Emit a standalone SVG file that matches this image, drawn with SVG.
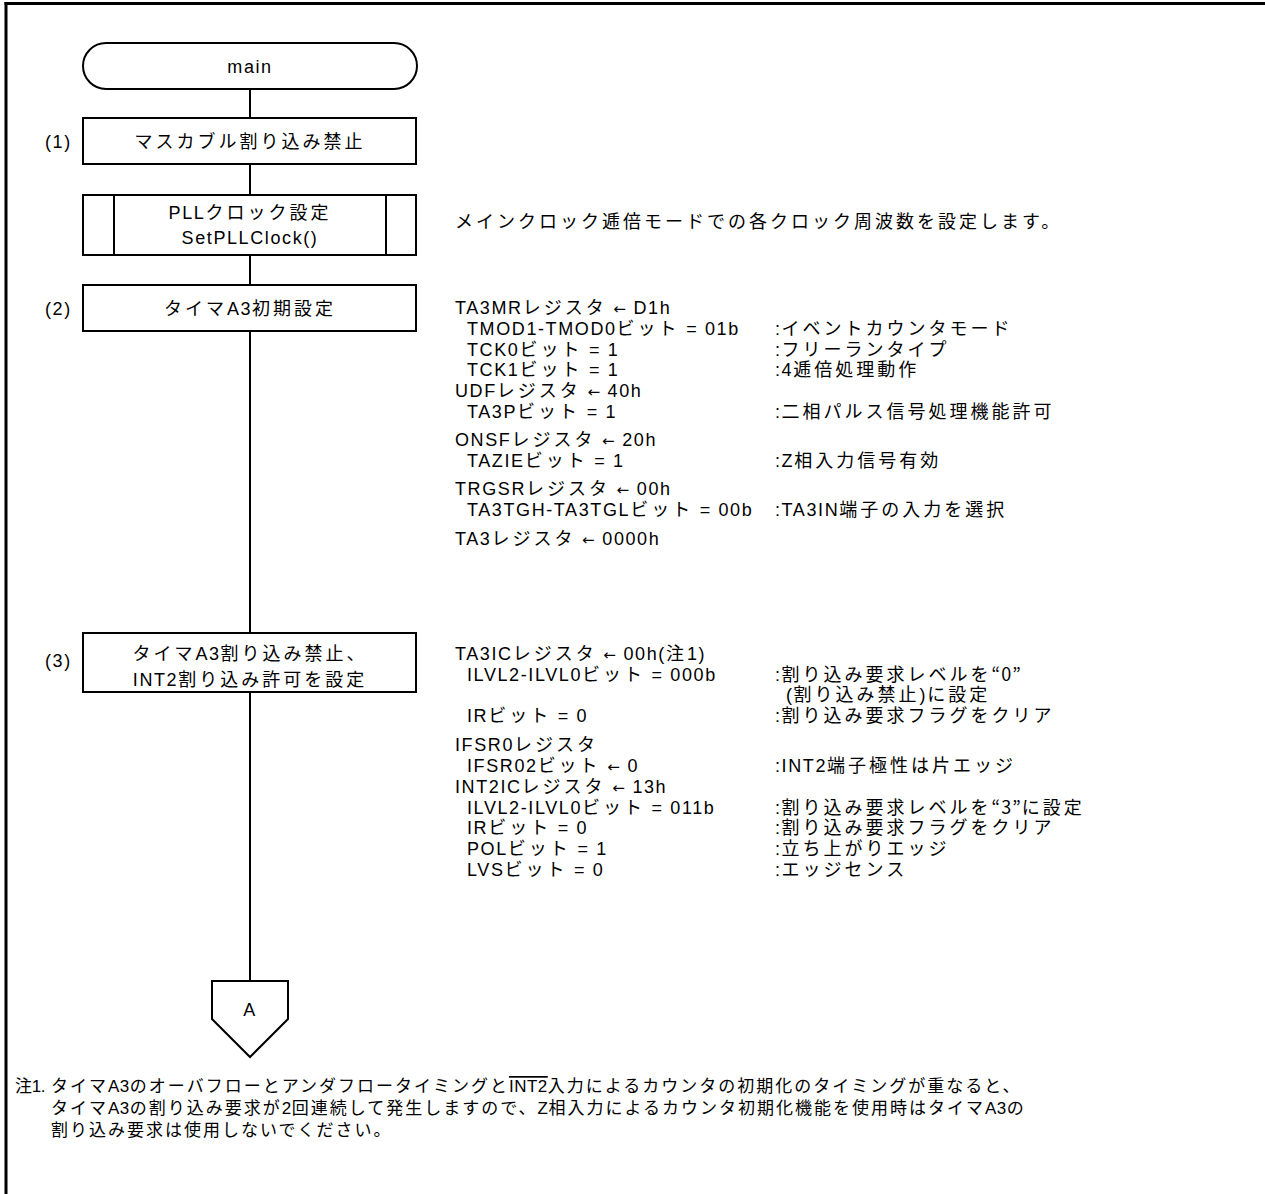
<svg xmlns="http://www.w3.org/2000/svg" width="1265" height="1194" viewBox="0 0 1265 1194">
<style>
.t{font-family:"Liberation Sans","Noto Sans CJK JP",sans-serif;font-size:18px;letter-spacing:1.6px;fill:#000}
.c{text-anchor:middle}
.j{letter-spacing:3px}
.a{font-family:"DejaVu Sans",sans-serif;font-size:15px;letter-spacing:1px}
.q{font-family:"Noto Sans CJK JP",sans-serif;letter-spacing:1px}
.n{font-family:"Liberation Sans","Noto Sans CJK JP",sans-serif;font-size:17px;letter-spacing:0.5px;fill:#000}
.nj{letter-spacing:2px}
.box{fill:#fff;stroke:#000;stroke-width:2}
.ln{stroke:#000;stroke-width:2;fill:none}
</style>
<rect width="1265" height="1194" fill="#fff"/>
<g id="frame">
<line x1="4.5" y1="3.5" x2="1265" y2="3.5" stroke="#000" stroke-width="3"/>
<line x1="6" y1="2" x2="6" y2="1194" stroke="#000" stroke-width="3"/>
</g>
<g id="connectors">
<line class="ln" x1="250" y1="89" x2="250" y2="118"/>
<line class="ln" x1="250" y1="164" x2="250" y2="195"/>
<line class="ln" x1="250" y1="255" x2="250" y2="285"/>
<line class="ln" x1="250" y1="331" x2="250" y2="633"/>
<line class="ln" x1="250" y1="692" x2="250" y2="981"/>
</g>
<g id="start">
<rect class="box" x="83" y="43" width="334" height="46" rx="23" ry="23"/>
<text class="t c" x="250" y="73">main</text>
</g>
<g id="step1">
<rect class="box" x="83" y="118" width="333" height="46"/>
<text class="t" x="45" y="148">(1)</text>
<text class="t c" x="250" y="148"><tspan class="j">マスカブル割り込み禁止</tspan></text>
</g>
<g id="pll">
<rect class="box" x="83" y="195" width="333" height="60"/>
<line class="ln" x1="114" y1="195" x2="114" y2="255"/>
<line class="ln" x1="386" y1="195" x2="386" y2="255"/>
<text class="t c" x="250" y="219">PLL<tspan class="j">クロック設定</tspan></text>
<text class="t c" x="250" y="244">SetPLLClock()</text>
</g>
<g id="step2">
<rect class="box" x="83" y="285" width="333" height="46"/>
<text class="t" x="45" y="315">(2)</text>
<text class="t c" x="250" y="315"><tspan class="j">タイマ</tspan>A3<tspan class="j">初期設定</tspan></text>
</g>
<g id="step3">
<rect class="box" x="83" y="633" width="333" height="59"/>
<text class="t" x="45" y="667">(3)</text>
<text class="t c" x="250" y="660"><tspan class="j">タイマ</tspan>A3<tspan class="j">割り込み禁止、</tspan></text>
<text class="t c" x="250" y="686">INT2<tspan class="j">割り込み許可を設定</tspan></text>
</g>
<g id="connA">
<polygon class="box" points="212,981 288,981 288,1019 250,1057 212,1019"/>
<text class="t c" x="250" y="1016">A</text>
</g>
<g id="desc">
<text class="t" x="455" y="228"><tspan class="j">メインクロック逓倍モードでの各クロック周波数を設定します。</tspan></text>

<text class="t" x="455" y="314">TA3MR<tspan class="j">レジスタ</tspan> <tspan class="a">←</tspan> D1h</text>
<text class="t" x="467" y="335">TMOD1-TMOD0<tspan class="j">ビット</tspan> = 01b</text>
<text class="t" x="775" y="335">:<tspan class="j">イベントカウンタモード</tspan></text>
<text class="t" x="467" y="356">TCK0<tspan class="j">ビット</tspan> = 1</text>
<text class="t" x="775" y="356">:<tspan class="j">フリーランタイプ</tspan></text>
<text class="t" x="467" y="376">TCK1<tspan class="j">ビット</tspan> = 1</text>
<text class="t" x="775" y="376">:4<tspan class="j">逓倍処理動作</tspan></text>
<text class="t" x="455" y="397">UDF<tspan class="j">レジスタ</tspan> <tspan class="a">←</tspan> 40h</text>
<text class="t" x="467" y="418">TA3P<tspan class="j">ビット</tspan> = 1</text>
<text class="t" x="775" y="418">:<tspan class="j">二相パルス信号処理機能許可</tspan></text>
<text class="t" x="455" y="446">ONSF<tspan class="j">レジスタ</tspan> <tspan class="a">←</tspan> 20h</text>
<text class="t" x="467" y="467">TAZIE<tspan class="j">ビット</tspan> = 1</text>
<text class="t" x="775" y="467">:Z<tspan class="j">相入力信号有効</tspan></text>
<text class="t" x="455" y="495">TRGSR<tspan class="j">レジスタ</tspan> <tspan class="a">←</tspan> 00h</text>
<text class="t" x="467" y="516">TA3TGH-TA3TGL<tspan class="j">ビット</tspan> = 00b</text>
<text class="t" x="775" y="516">:TA3IN<tspan class="j">端子の入力を選択</tspan></text>
<text class="t" x="455" y="545">TA3<tspan class="j">レジスタ</tspan> <tspan class="a">←</tspan> 0000h</text>

<text class="t" x="455" y="660">TA3IC<tspan class="j">レジスタ</tspan> <tspan class="a">←</tspan> 00h(<tspan class="j">注</tspan>1)</text>
<text class="t" x="467" y="681">ILVL2-ILVL0<tspan class="j">ビット</tspan> = 000b</text>
<text class="t" x="775" y="681">:<tspan class="j">割り込み要求レベルを</tspan><tspan class="q">“0”</tspan></text>
<text class="t" x="786" y="701">(<tspan class="j">割り込み禁止</tspan>)<tspan class="j">に設定</tspan></text>
<text class="t" x="467" y="722">IR<tspan class="j">ビット</tspan> = 0</text>
<text class="t" x="775" y="722">:<tspan class="j">割り込み要求フラグをクリア</tspan></text>
<text class="t" x="455" y="751">IFSR0<tspan class="j">レジスタ</tspan></text>
<text class="t" x="467" y="772">IFSR02<tspan class="j">ビット</tspan> <tspan class="a">←</tspan> 0</text>
<text class="t" x="775" y="772">:INT2<tspan class="j">端子極性は片エッジ</tspan></text>
<text class="t" x="455" y="793">INT2IC<tspan class="j">レジスタ</tspan> <tspan class="a">←</tspan> 13h</text>
<text class="t" x="467" y="814">ILVL2-ILVL0<tspan class="j">ビット</tspan> = 011b</text>
<text class="t" x="775" y="814">:<tspan class="j">割り込み要求レベルを</tspan><tspan class="q">“3”</tspan><tspan class="j">に設定</tspan></text>
<text class="t" x="467" y="834">IR<tspan class="j">ビット</tspan> = 0</text>
<text class="t" x="775" y="834">:<tspan class="j">割り込み要求フラグをクリア</tspan></text>
<text class="t" x="467" y="855">POL<tspan class="j">ビット</tspan> = 1</text>
<text class="t" x="775" y="855">:<tspan class="j">立ち上がりエッジ</tspan></text>
<text class="t" x="467" y="876">LVS<tspan class="j">ビット</tspan> = 0</text>
<text class="t" x="775" y="876">:<tspan class="j">エッジセンス</tspan></text>
</g>
<g id="note">
<text class="n" x="15" y="1092" style="letter-spacing:-0.3px">注1.</text>
<text class="n" x="51" y="1092"><tspan class="nj">タイマ</tspan>A3<tspan class="nj">のオーバフローとアンダフロータイミングと</tspan><tspan style="text-decoration:overline">INT2</tspan><tspan class="nj">入力によるカウンタの初期化のタイミングが重なると、</tspan></text>
<text class="n" x="51" y="1114"><tspan class="nj">タイマ</tspan>A3<tspan class="nj">の割り込み要求が</tspan>2<tspan class="nj">回連続して発生しますので、</tspan>Z<tspan class="nj">相入力によるカウンタ初期化機能を使用時はタイマ</tspan>A3<tspan class="nj">の</tspan></text>
<text class="n" x="51" y="1136"><tspan class="nj">割り込み要求は使用しないでください。</tspan></text>
</g>
</svg>
